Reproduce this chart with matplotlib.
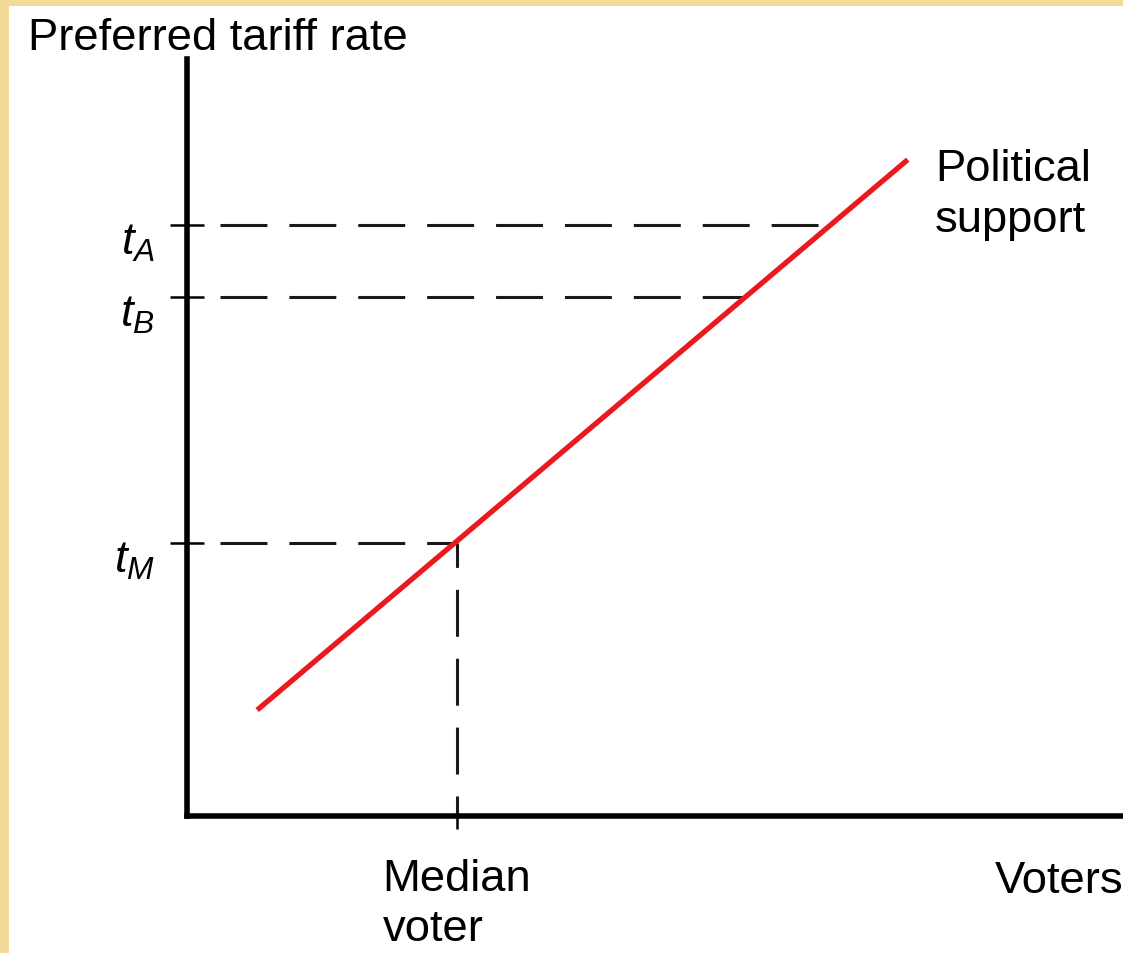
import numpy as np
import matplotlib
matplotlib.use("Agg")
from matplotlib import pyplot as plt
from matplotlib.patches import Rectangle
from matplotlib.transforms import ScaledTranslation

plt.rcParams['font.family'] = ['Liberation Sans', 'DejaVu Sans']
plt.rcParams['mathtext.fontset'] = 'custom'
plt.rcParams['mathtext.rm'] = 'Liberation Sans'
plt.rcParams['mathtext.it'] = 'Liberation Sans:italic'
plt.rcParams['lines.scale_dashes'] = False

# political support schedule (voters -> preferred tariff)
support_x = [0.75, 7.70]
support_y = [1.40, 8.67]
median_voter = 2.885
tariff_levels = [3.60, 6.856, 7.807]
tariff_labels = ['$t_M$', '$t_B$', '$t_A$']

def on_line(t):
    # voter position where the support line reaches tariff t
    b = (support_y[1] - support_y[0]) / (support_x[1] - support_x[0])
    return support_x[0] + (t - support_y[0]) / b

fs = 32.7
fig = plt.figure(figsize=(11.23, 9.54), dpi=100)
fig.patch.set_facecolor('#f3da98')
fig.patches.append(Rectangle((9/1123, 0), 1, 1 - 7/954, transform=fig.transFigure,
                             facecolor='white', edgecolor='none', zorder=-5))

ax = fig.add_axes([187/1123, 1 - 817/954, 1 - 187/1123, (817 - 60)/954])
ax.set_xlim(0, 10)
ax.set_ylim(0, 10)
ax.patch.set_alpha(0)

for s in ['top', 'right']:
    ax.spines[s].set_visible(False)
for s in ['left', 'bottom']:
    ax.spines[s].set_linewidth(4.0)
    ax.spines[s].set_capstyle('projecting')

dash = (0, (33.8, 15.8))
x0 = 0.35
for t in tariff_levels:
    ax.plot([x0, on_line(t)], [t, t], color='#1a1a1a', lw=2.2, linestyle=dash,
            solid_capstyle='butt', zorder=2)
ax.plot([median_voter, median_voter], [0, tariff_levels[0]], color='#1a1a1a', lw=2.2,
        linestyle=(19.4, (33.8, 15.8)), zorder=2)

ax.plot(support_x, support_y, color='#ec1820', lw=3.8, solid_capstyle='butt', zorder=3)

ax.set_yticks(tariff_levels, tariff_labels)
ax.tick_params(axis='y', direction='inout', length=24, width=1.8, pad=9, labelsize=fs)
shift = ScaledTranslation(-2/72, -9/72, fig.dpi_scale_trans)
for lab in ax.get_yticklabels():
    lab.set_transform(lab.get_transform() + shift)

ax.set_xticks([median_voter], ['Median\nvoter'])
ax.tick_params(axis='x', direction='out', length=9.5, width=1.8, pad=20.5, labelsize=fs)
for lab in ax.get_xticklabels():
    lab.set_multialignment('left')
    lab.set_linespacing(1.3)

ax.text(7.99, (817 - 232) / 75.7, 'Political\nsupport', fontsize=fs, va='baseline',
        ha='left', linespacing=1.3)
ax.text(8.63, -1.004, 'Voters', fontsize=fs, va='baseline', ha='left', clip_on=False)
fig.text(28/1123, 1 - 50/954, 'Preferred tariff rate', fontsize=fs, va='baseline', ha='left')

fig.savefig('out.png', dpi=100, facecolor=fig.get_facecolor())
